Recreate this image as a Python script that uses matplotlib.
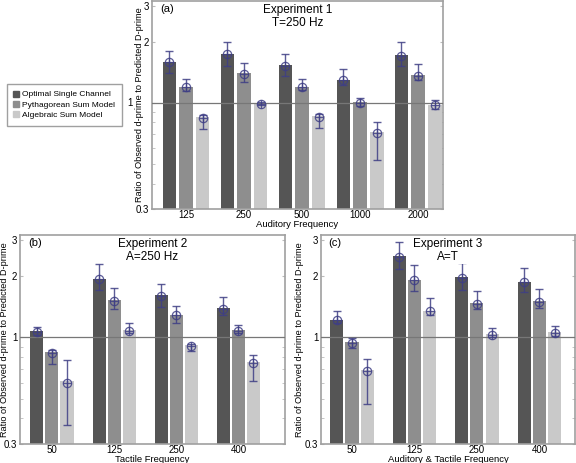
import numpy as np
import matplotlib
matplotlib.use('Agg')
import matplotlib.pyplot as plt
from matplotlib.ticker import LogLocator, NullFormatter, FixedLocator, FixedFormatter
from matplotlib.lines import Line2D

plt.rcParams['font.family'] = ['Liberation Sans', 'DejaVu Sans']

series = ['Optimal Single Channel', 'Pythagorean Sum Model', 'Algebraic Sum Model']
bar_colors = ['#555555', '#8e8e8e', '#c9c9c9']

# Experiment 1 (T=250 Hz)
exp1_freq = ['125', '250', '500', '1000', '2000']
exp1_val = [[1.58, 1.73, 1.52, 1.29, 1.70],
            [1.19, 1.39, 1.19, 1.00, 1.36],
            [0.845, 0.99, 0.855, 0.71, 0.97]]
exp1_hi = [[1.80, 2.00, 1.73, 1.46, 1.99],
           [1.31, 1.57, 1.31, 1.05, 1.55],
           [0.87, 1.01, 0.88, 0.80, 1.03]]
exp1_lo = [[1.40, 1.51, 1.36, 1.23, 1.51],
           [1.14, 1.26, 1.15, 0.96, 1.29],
           [0.74, 0.97, 0.75, 0.52, 0.93]]

# Experiment 2 (A=250 Hz)
exp2_freq = ['50', '125', '250', '400']
exp2_val = [[1.06, 1.93, 1.60, 1.38],
            [0.84, 1.51, 1.28, 1.07],
            [0.60, 1.07, 0.91, 0.75]]
exp2_hi = [[1.12, 2.28, 1.82, 1.58],
           [0.87, 1.75, 1.42, 1.15],
           [0.77, 1.17, 0.93, 0.82]]
exp2_lo = [[1.03, 1.70, 1.40, 1.28],
           [0.74, 1.38, 1.18, 1.05],
           [0.37, 1.05, 0.86, 0.61]]

# Experiment 3 (A=T)
exp3_freq = ['50', '125', '250', '400']
exp3_val = [[1.21, 2.48, 1.96, 1.86],
            [0.94, 1.90, 1.46, 1.49],
            [0.68, 1.34, 1.03, 1.05]]
exp3_hi = [[1.34, 2.94, 2.30, 2.19],
           [0.99, 2.25, 1.68, 1.72],
           [0.78, 1.55, 1.11, 1.14]]
exp3_lo = [[1.17, 2.15, 1.71, 1.67],
           [0.89, 1.68, 1.37, 1.39],
           [0.47, 1.28, 1.00, 1.02]]

err_color = '#3f3f85'
spine_color = '#a0a0a0'


def draw_panel(ax, freqs, vals, his, los, step, width, xlim, letter, title, xlabel,
               ylabel_x, one_label=True):
    x = np.arange(1, len(freqs) + 1)
    for k in range(3):
        xs = x + (k - 1) * step
        v = np.array(vals[k])
        ax.bar(xs, v, width=width, bottom=0.01, color=bar_colors[k], zorder=2)
        yerr = [v - np.array(los[k]), np.array(his[k]) - v]
        ax.errorbar(xs, v, yerr=yerr, fmt='none', ecolor=err_color, elinewidth=1,
                    capsize=3, capthick=1, alpha=0.85, zorder=4)
        ax.plot(xs, v, 'o', ms=6, mfc='none', mec=err_color, mew=0.9, alpha=0.85, zorder=5)
        ax.plot(xs, v, '+', ms=6, color=err_color, mew=0.9, alpha=0.85, zorder=5)
    ax.axhline(1, color='#777777', lw=0.9, zorder=3)
    ax.set_yscale('log')
    ax.set_ylim(0.3, 3.17)
    ax.set_xlim(*xlim)
    ax.yaxis.set_major_locator(FixedLocator([0.3, 1, 2, 3]))
    ax.yaxis.set_major_formatter(FixedFormatter(['0.3', '1' if one_label else '', '2', '3']))
    ax.yaxis.set_minor_locator(LogLocator(base=10, subs=np.arange(2, 10) * 1.0, numticks=20))
    ax.yaxis.set_minor_formatter(NullFormatter())
    ax.set_xticks(x)
    ax.set_xticklabels(freqs)
    ax.tick_params(axis='x', length=0, labelsize=7, pad=1)
    ax.tick_params(axis='y', which='both', direction='in', right=True, length=2,
                   color='#bbbbbb', labelsize=7, pad=2)
    for s in ax.spines.values():
        s.set_color(spine_color)
        s.set_linewidth(1.2)
    ax.set_xlabel(xlabel, fontsize=6.8, labelpad=0)
    ax.set_ylabel('Ratio of Observed d-prime to Predicted D-prime', fontsize=6.6)
    ax.yaxis.set_label_coords(ylabel_x, 0.5)
    ax.text(0.03, 0.985, letter, transform=ax.transAxes, fontsize=8, va='top', ha='left')
    ax.text(0.5, 0.985, title, transform=ax.transAxes, fontsize=8.5, va='top', ha='center',
            linespacing=1.1, zorder=6,
            bbox=dict(facecolor='white', edgecolor='none', pad=1))


fig = plt.figure(figsize=(5.76, 4.63), dpi=100)
W, H = 576.0, 463.0

ax_a = fig.add_axes([152 / W, 1 - 209 / H, 291 / W, 208 / H])
draw_panel(ax_a, exp1_freq, exp1_val, exp1_hi, exp1_lo, 0.288, 0.233, (0.414, 5.43),
           '(a)', 'Experiment 1\nT=250 Hz', 'Auditory Frequency', -0.029, one_label=False)
# the "1" label of the top panel sits to the left of the axis title
ax_a.annotate('1', xy=(0, 1), xycoords=('axes fraction', 'data'),
              xytext=(-16, 0), textcoords='offset points', fontsize=7,
              ha='center', va='center', annotation_clip=False, zorder=10)

ax_b = fig.add_axes([20 / W, 1 - 444 / H, 265 / W, 209 / H])
draw_panel(ax_b, exp2_freq, exp2_val, exp2_hi, exp2_lo, 0.242, 0.21, (0.486, 4.75),
           '(b)', 'Experiment 2\nA=250 Hz', 'Tactile Frequency', -0.04)

ax_c = fig.add_axes([321 / W, 1 - 444 / H, 254 / W, 209 / H])
draw_panel(ax_c, exp3_freq, exp3_val, exp3_hi, exp3_lo, 0.245, 0.21, (0.504, 4.57),
           '(c)', 'Experiment 3\nA=T', 'Auditory & Tactile Frequency', -0.066)

handles = [Line2D([], [], marker='s', ls='none', ms=4, mfc=c, mec=c) for c in bar_colors]
fig.legend(handles, series, loc='upper left', bbox_to_anchor=(7 / W, 1 - 84 / H),
           fontsize=6.0, frameon=True, fancybox=False, edgecolor='#888888',
           handlelength=0.6, handletextpad=0.4, borderpad=0.8, labelspacing=0.3,
           borderaxespad=0)

fig.savefig('out.png', dpi=100)
